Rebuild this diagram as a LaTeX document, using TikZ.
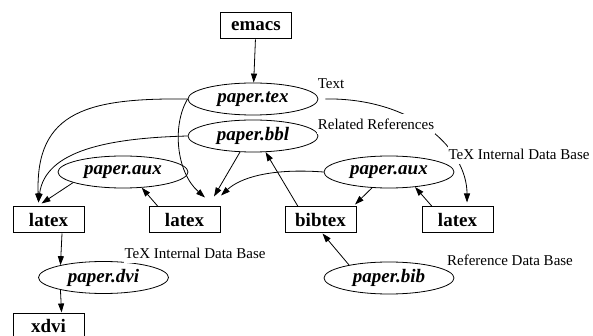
\documentclass[tikz,border=0pt]{standalone}
\usepackage{fontspec}
\setmainfont{Liberation Serif}
\usetikzlibrary{arrows.meta,shapes.geometric}
\tikzset{
  prog/.style={draw,line width=1pt,minimum width=71pt,minimum height=26pt,inner sep=0pt,
    font=\fontsize{19}{22}\selectfont\bfseries},
  file/.style={ellipse,draw,line width=0.8pt,minimum width=130pt,minimum height=32pt,inner sep=0pt,
    font=\fontsize{19}{22}\selectfont\bfseries\itshape},
  dep/.style={-{Triangle[length=9pt,width=6pt]},line width=0.8pt},
  lbl/.style={fill=white,inner xsep=1pt,inner ysep=5pt,font=\fontsize{15}{18}\selectfont}
}

\begin{document}
\begin{tikzpicture}[x=1pt,y=-1pt]
\useasboundingbox (0,0) rectangle (593,336);
\node[prog] (emacs) at (256,26) {emacs};
\node[file] (tex) at (253,99) {paper.tex};
\node[file] (bbl) at (253,136) {paper.bbl};
\node[file] (auxL) at (123,172) {paper.aux};
\node[file] (auxR) at (389,172) {paper.aux};
\node[prog] (latexL) at (48.5,220) {latex};
\node[prog] (latexM) at (184.5,220) {latex};
\node[prog] (bibtex) at (320.5,220) {bibtex};
\node[prog] (latexR) at (457.5,220) {latex};
\node[file] (dvi) at (103.5,277.5) {paper.dvi};
\node[file] (bib) at (389,278) {paper.bib};
\node[prog] (xdvi) at (48.5,326) {xdvi};

\draw[dep] (emacs) -- (tex);
\draw[dep] (tex.west) .. controls (90,98) and (35,110) .. ([xshift=-10pt,yshift=4pt]latexL.north);
\draw[dep] (bbl.west) .. controls (110,138) and (45,150) .. ([xshift=-10pt,yshift=4pt]latexL.north);
\draw[dep] (auxL.192) -- ([xshift=-7pt,yshift=3pt]latexL.north);
\draw[dep] (tex.west) .. controls (172,125) and (176,172) .. ([xshift=20.5pt,yshift=9pt]latexM.north);
\draw[dep] (bbl.231) -- ([xshift=29.5pt,yshift=10pt]latexM.north);
\draw[dep] (auxR.west) .. controls (270,168) and (240,178) .. ([xshift=36.5pt,yshift=11pt]latexM.north);
\draw[dep] (latexM.153) -- (auxL.320);
\draw[dep] (bibtex.149) -- (bbl.308);
\draw[dep] (auxR.223) -- ([xshift=34.5pt,yshift=2pt]bibtex.north);
\draw[dep] (latexR.152) -- (auxR.330);
\draw[dep,shorten <=7pt] (tex.east) .. controls (415,98) and (467,150) .. ([xshift=9.5pt,yshift=4pt]latexR.north);
\draw[dep] (bib.162) -- ([xshift=2pt]bibtex.south);
\draw[dep] (latexL.-45) -- (dvi.164);
\draw[dep] (dvi.196) -- (xdvi.46);

\node[lbl] (lText) at (331,84) {Text};
\node[lbl] (lRel) at (376,124) {Related References};
\node[lbl] (lTexUp) at (519,154) {TeX Internal Data Base};
\node[lbl] (lTexLow) at (195,253) {TeX Internal Data Base};
\node[lbl] (lRef) at (510,260) {Reference Data Base};
\end{tikzpicture}
\end{document}
